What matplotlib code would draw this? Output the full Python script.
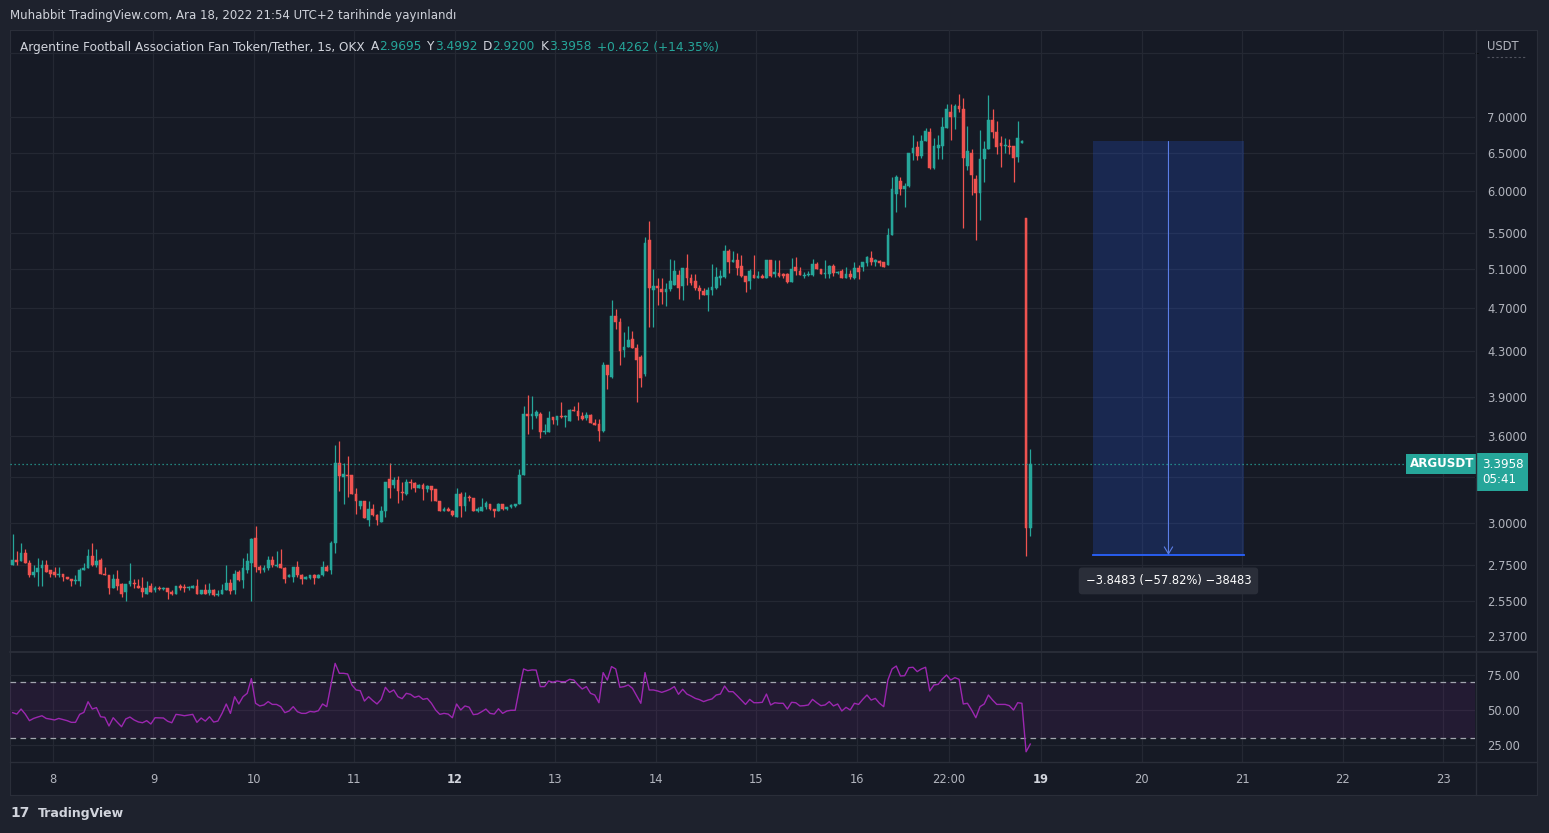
import numpy as np
import matplotlib.pyplot as plt
from matplotlib.lines import Line2D
from matplotlib.patches import Rectangle
from matplotlib.ticker import FixedLocator, NullFormatter
from matplotlib.transforms import blended_transform_factory

# ARG/USDT hourly candles (OKX)
opens = [
    2.75, 2.78, 2.77, 2.82, 2.76, 2.69, 2.71, 2.73, 2.75, 2.72, 2.71, 2.69,
    2.70, 2.68, 2.67, 2.66, 2.66, 2.72, 2.73, 2.80, 2.75, 2.78, 2.70, 2.69,
    2.62, 2.67, 2.64, 2.60, 2.64, 2.65, 2.63, 2.62, 2.59, 2.63, 2.61, 2.62,
    2.615, 2.62, 2.60, 2.59, 2.63, 2.625, 2.62, 2.62, 2.63, 2.59, 2.61, 2.595,
    2.61, 2.58, 2.59, 2.61, 2.65, 2.61, 2.71, 2.665, 2.72, 2.76, 2.91, 2.74,
    2.72, 2.73, 2.775, 2.745, 2.755, 2.73, 2.68, 2.68, 2.735, 2.69, 2.67, 2.675,
    2.69, 2.675, 2.69, 2.74, 2.72, 2.88, 3.40, 3.30, 3.32, 3.32, 3.19, 3.11,
    3.145, 3.02, 3.09, 3.05, 3.01, 3.08, 3.29, 3.25, 3.28, 3.20, 3.19, 3.27,
    3.26, 3.23, 3.25, 3.22, 3.24, 3.22, 3.145, 3.08, 3.09, 3.08, 3.04, 3.185,
    3.11, 3.17, 3.16, 3.08, 3.08, 3.10, 3.12, 3.09, 3.075, 3.125, 3.09, 3.10,
    3.11, 3.12, 3.32, 3.77, 3.755, 3.755, 3.77, 3.625, 3.63, 3.745, 3.72, 3.755,
    3.745, 3.71, 3.80, 3.79, 3.75, 3.735, 3.76, 3.70, 3.69, 3.64, 4.17, 4.07,
    4.62, 4.57, 4.31, 4.335, 4.41, 4.32, 4.24, 4.10, 5.42, 4.88, 4.92, 4.89,
    4.86, 4.89, 4.93, 5.04, 4.92, 5.11, 5.00, 4.97, 4.90, 4.87, 4.83, 4.88,
    4.90, 5.01, 5.02, 5.29, 5.18, 5.20, 5.13, 5.03, 4.97, 5.04, 5.00, 5.03,
    5.00, 5.20, 5.05, 5.06, 5.05, 5.05, 4.96, 5.12, 5.08, 5.03, 5.04, 5.04,
    5.15, 5.10, 5.05, 5.05, 5.13, 5.06, 5.08, 5.00, 5.05, 5.01, 5.11, 5.12,
    5.16, 5.22, 5.17, 5.19, 5.17, 5.14, 5.48, 5.97, 6.13, 6.03, 6.07, 6.50,
    6.58, 6.46, 6.66, 6.79, 6.30, 6.56, 6.60, 6.85, 7.08, 7.00, 7.16, 7.13,
    6.32, 6.50, 6.16, 5.98, 6.42, 6.55, 6.96, 6.79, 6.63, 6.59, 6.60, 6.59,
    6.45, 6.64, 5.67, 2.9695,
]
highs = [
    2.93, 2.83, 2.88, 2.84, 2.78, 2.75, 2.79, 2.78, 2.78, 2.72, 2.74, 2.74,
    2.70, 2.68, 2.67, 2.69, 2.73, 2.76, 2.84, 2.88, 2.84, 2.79, 2.74, 2.69,
    2.70, 2.72, 2.65, 2.64, 2.76, 2.67, 2.67, 2.68, 2.66, 2.65, 2.63, 2.63,
    2.625, 2.62, 2.61, 2.63, 2.64, 2.64, 2.63, 2.635, 2.67, 2.61, 2.64, 2.65,
    2.615, 2.61, 2.64, 2.75, 2.67, 2.72, 2.72, 2.79, 2.82, 2.91, 2.98, 2.75,
    2.75, 2.80, 2.80, 2.83, 2.84, 2.74, 2.70, 2.74, 2.77, 2.70, 2.685, 2.69,
    2.70, 2.70, 2.77, 2.75, 2.89, 3.53, 3.56, 3.40, 3.45, 3.32, 3.23, 3.145,
    3.145, 3.14, 3.12, 3.06, 3.11, 3.27, 3.40, 3.30, 3.31, 3.27, 3.29, 3.29,
    3.27, 3.255, 3.265, 3.25, 3.24, 3.22, 3.145, 3.10, 3.10, 3.085, 3.23, 3.20,
    3.20, 3.18, 3.16, 3.10, 3.16, 3.14, 3.12, 3.09, 3.13, 3.125, 3.105, 3.12,
    3.125, 3.36, 3.83, 3.92, 3.91, 3.80, 3.78, 3.69, 3.79, 3.745, 3.755, 3.86,
    3.76, 3.81, 3.83, 3.86, 3.78, 3.78, 3.765, 3.73, 3.73, 4.20, 4.17, 4.78,
    4.69, 4.60, 4.47, 4.53, 4.48, 4.36, 4.26, 5.45, 5.64, 5.10, 5.00, 5.00,
    4.95, 5.21, 5.20, 5.09, 5.11, 5.26, 5.05, 5.05, 4.93, 4.90, 4.91, 5.15,
    5.12, 5.09, 5.36, 5.32, 5.29, 5.27, 5.25, 5.03, 5.10, 5.25, 5.08, 5.05,
    5.20, 5.20, 5.20, 5.20, 5.06, 5.06, 5.22, 5.23, 5.12, 5.07, 5.08, 5.21,
    5.18, 5.10, 5.20, 5.14, 5.15, 5.08, 5.10, 5.12, 5.09, 5.17, 5.14, 5.17,
    5.24, 5.30, 5.21, 5.20, 5.18, 5.55, 6.18, 6.20, 6.18, 6.10, 6.50, 6.74,
    6.66, 6.75, 6.84, 6.84, 6.70, 6.74, 7.00, 7.20, 7.20, 7.20, 7.35, 7.29,
    6.87, 6.55, 6.20, 6.81, 6.66, 7.33, 7.12, 6.94, 6.73, 6.71, 6.69, 6.60,
    6.95, 6.67, 5.67, 3.4992,
]
lows = [
    2.75, 2.75, 2.77, 2.76, 2.68, 2.68, 2.63, 2.63, 2.71, 2.68, 2.68, 2.68,
    2.66, 2.67, 2.63, 2.64, 2.63, 2.72, 2.73, 2.745, 2.74, 2.70, 2.69, 2.59,
    2.62, 2.61, 2.57, 2.55, 2.63, 2.62, 2.62, 2.57, 2.59, 2.60, 2.60, 2.61,
    2.61, 2.56, 2.58, 2.59, 2.61, 2.60, 2.61, 2.62, 2.59, 2.585, 2.59, 2.58,
    2.575, 2.575, 2.59, 2.61, 2.59, 2.585, 2.66, 2.62, 2.705, 2.55, 2.71, 2.705,
    2.71, 2.72, 2.74, 2.735, 2.73, 2.65, 2.68, 2.655, 2.68, 2.64, 2.67, 2.67,
    2.64, 2.675, 2.685, 2.715, 2.70, 2.82, 3.21, 3.12, 3.17, 3.19, 3.06, 3.09,
    3.03, 2.98, 3.045, 2.99, 3.01, 3.04, 3.16, 3.23, 3.13, 3.15, 3.18, 3.22,
    3.20, 3.225, 3.15, 3.20, 3.14, 3.14, 3.08, 3.075, 3.075, 3.045, 3.04, 3.04,
    3.08, 3.14, 3.08, 3.07, 3.08, 3.09, 3.085, 3.04, 3.075, 3.085, 3.085, 3.095,
    3.10, 3.12, 3.32, 3.61, 3.65, 3.74, 3.58, 3.61, 3.63, 3.69, 3.685, 3.74,
    3.67, 3.71, 3.79, 3.72, 3.72, 3.72, 3.70, 3.685, 3.56, 3.63, 3.97, 4.06,
    4.50, 4.17, 4.24, 4.335, 4.32, 3.86, 3.99, 4.08, 4.52, 4.52, 4.73, 4.74,
    4.72, 4.87, 4.93, 4.79, 4.78, 4.93, 4.93, 4.88, 4.79, 4.83, 4.67, 4.83,
    4.89, 4.93, 5.01, 5.06, 5.18, 5.04, 5.02, 4.86, 4.89, 5.00, 5.00, 5.00,
    5.00, 5.02, 5.02, 5.02, 5.01, 4.95, 4.96, 5.04, 5.04, 5.01, 5.03, 5.03,
    5.10, 5.05, 5.00, 5.01, 5.03, 5.05, 5.00, 5.00, 4.99, 4.99, 4.99, 5.08,
    5.13, 5.14, 5.13, 5.13, 5.12, 5.14, 5.47, 5.75, 5.95, 5.80, 6.05, 6.40,
    6.40, 6.43, 6.66, 6.28, 6.29, 6.42, 6.42, 6.85, 6.67, 6.83, 7.08, 5.56,
    6.27, 5.95, 5.42, 5.65, 6.11, 6.55, 6.71, 6.48, 6.31, 6.50, 6.48, 6.11,
    6.38, 6.64, 2.80, 2.92,
]
closes = [
    2.78, 2.765, 2.82, 2.76, 2.69, 2.71, 2.73, 2.75, 2.71, 2.70, 2.69, 2.70,
    2.68, 2.67, 2.66, 2.665, 2.72, 2.73, 2.80, 2.75, 2.77, 2.70, 2.69, 2.62,
    2.67, 2.63, 2.59, 2.64, 2.66, 2.64, 2.62, 2.60, 2.62, 2.60, 2.62, 2.615,
    2.62, 2.60, 2.59, 2.63, 2.62, 2.62, 2.625, 2.63, 2.59, 2.61, 2.59, 2.61,
    2.58, 2.59, 2.61, 2.65, 2.605, 2.70, 2.665, 2.73, 2.77, 2.90, 2.74, 2.72,
    2.73, 2.775, 2.75, 2.75, 2.73, 2.67, 2.69, 2.735, 2.69, 2.67, 2.68, 2.69,
    2.675, 2.69, 2.74, 2.715, 2.88, 3.40, 3.31, 3.325, 3.31, 3.19, 3.145, 3.145,
    3.03, 3.09, 3.05, 3.02, 3.08, 3.27, 3.23, 3.28, 3.21, 3.195, 3.27, 3.26,
    3.23, 3.25, 3.22, 3.24, 3.215, 3.14, 3.08, 3.09, 3.08, 3.05, 3.185, 3.11,
    3.17, 3.16, 3.08, 3.09, 3.10, 3.13, 3.09, 3.075, 3.125, 3.09, 3.10, 3.115,
    3.12, 3.32, 3.77, 3.755, 3.765, 3.78, 3.63, 3.635, 3.74, 3.72, 3.755, 3.745,
    3.755, 3.80, 3.79, 3.75, 3.73, 3.76, 3.70, 3.685, 3.64, 4.17, 4.09, 4.62,
    4.57, 4.30, 4.335, 4.40, 4.32, 4.22, 4.06, 5.38, 4.90, 4.92, 4.90, 4.86,
    4.89, 4.97, 5.08, 4.90, 5.11, 5.00, 4.95, 4.90, 4.87, 4.83, 4.88, 4.91,
    5.02, 5.02, 5.29, 5.18, 5.195, 5.11, 5.03, 4.96, 5.08, 5.00, 5.03, 5.00,
    5.20, 5.03, 5.07, 5.03, 5.03, 4.96, 5.10, 5.08, 5.04, 5.04, 5.045, 5.15,
    5.10, 5.05, 5.06, 5.13, 5.06, 5.07, 5.00, 5.05, 5.02, 5.11, 5.07, 5.17,
    5.23, 5.17, 5.20, 5.16, 5.12, 5.48, 6.03, 6.18, 6.03, 6.06, 6.50, 6.56,
    6.46, 6.66, 6.80, 6.30, 6.60, 6.61, 6.86, 7.13, 7.00, 7.16, 7.12, 6.43,
    6.52, 6.21, 5.98, 6.41, 6.55, 6.96, 6.79, 6.58, 6.60, 6.60, 6.58, 6.43,
    6.70, 6.66, 2.9696, 3.3958,
]
rsi = [
    48.1, 47.1, 50.7, 47.1, 42.4, 44.0, 45.0, 45.9, 44.0, 43.5, 42.9, 44.0,
    43.2, 42.4, 41.2, 41.2, 46.9, 48.3, 55.9, 50.7, 51.7, 45.2, 44.8, 38.6,
    44.5, 41.2, 38.1, 43.6, 45.0, 42.9, 41.5, 40.9, 42.4, 40.0, 44.5, 44.4,
    44.3, 42.0, 40.9, 46.9, 46.5, 45.9, 46.4, 46.9, 41.2, 44.3, 42.1, 45.2,
    41.4, 42.1, 47.6, 54.3, 47.6, 59.5, 54.3, 59.5, 61.9, 72.4, 54.8, 52.9,
    53.6, 56.0, 54.0, 54.0, 52.4, 48.1, 49.3, 52.4, 48.8, 47.6, 47.6, 49.0,
    48.6, 49.5, 54.3, 52.4, 67.9, 83.3, 76.2, 76.2, 75.7, 67.9, 64.3, 63.8,
    56.4, 59.5, 56.7, 54.3, 57.6, 66.2, 62.6, 64.3, 59.5, 58.1, 61.9, 61.2,
    59.0, 60.0, 57.6, 58.3, 54.8, 50.0, 46.9, 47.6, 47.1, 44.5, 54.3, 50.0,
    52.9, 52.0, 46.7, 47.1, 48.8, 50.7, 47.6, 47.1, 50.9, 47.6, 49.3, 49.8,
    49.8, 65.2, 79.3, 78.1, 78.6, 78.5, 66.7, 66.7, 70.7, 69.8, 70.7, 70.2,
    70.2, 71.9, 71.4, 67.9, 65.0, 66.7, 61.9, 60.7, 55.2, 76.7, 71.4, 81.0,
    79.3, 66.2, 66.7, 67.9, 65.5, 60.2, 54.8, 76.7, 64.3, 64.3, 63.6, 62.6,
    63.6, 64.8, 66.7, 61.2, 64.8, 61.4, 60.0, 58.3, 57.4, 56.0, 57.1, 57.9,
    60.7, 61.4, 67.1, 63.1, 63.1, 60.2, 57.1, 54.0, 57.6, 55.2, 55.2, 55.5,
    61.4, 53.6, 55.2, 54.8, 54.8, 50.7, 55.5, 55.2, 52.9, 53.1, 53.6, 57.6,
    55.2, 53.1, 53.6, 56.0, 52.9, 54.3, 49.3, 51.9, 50.0, 54.8, 54.0, 57.6,
    60.7, 57.1, 58.3, 54.8, 52.4, 71.4, 79.3, 81.4, 74.3, 74.5, 80.2, 80.5,
    77.4, 79.3, 80.5, 63.6, 67.9, 68.3, 72.1, 75.0, 71.4, 73.1, 71.9, 54.3,
    54.8, 50.0, 44.5, 52.4, 54.3, 60.7, 57.1, 54.0, 54.0, 54.0, 53.1, 50.0,
    55.2, 54.8, 20.2, 25.7,
]

price_ticks = [7.0, 6.5, 6.0, 5.5, 5.1, 4.7, 4.3, 3.9, 3.6, 3.0, 2.75, 2.55, 2.37]
hidden_grid = [8.0, 3.3]
rsi_ticks = [75, 50, 25]
rsi_band = (30, 70)
time_labels = ['8', '9', '10', '11', '12', '13', '14', '15', '16', '22:00',
               '19', '20', '21', '22', '23']
bold_labels = ['12', '19']

measure_top = 6.6556
measure_bottom = 2.8073

header = 'Muhabbit TradingView.com, Ara 18, 2022 21:54 UTC+2 tarihinde yayınlandı'
symbol = 'Argentine Football Association Fan Token/Tether, 1s, OKX'
ticker = 'ARGUSDT'
countdown = '05:41'

# colours
FRAME = '#1e222d'
BG = '#161a25'
GRID = '#242833'
SEP = '#2a2e39'
TXT = '#b2b5be'
TXT2 = '#d1d4dc'
UP = '#26a69a'
DOWN = '#ef5350'
RSI_C = '#9c27b0'
BLUE = '#2962ff'

W, H = 1549, 833


def px_box(l, t, r, b):
    return [l / W, 1 - b / H, (r - l) / W, (b - t) / H]


fig = plt.figure(figsize=(W / 100, H / 100), dpi=100, facecolor=FRAME)

panel = fig.add_axes(px_box(10, 30, 1537, 795))
panel.set_facecolor(BG)
panel.set_xticks([])
panel.set_yticks([])
for s in panel.spines.values():
    s.set_color(SEP)

ax = fig.add_axes(px_box(10, 30, 1475, 651))
ax_rsi = fig.add_axes(px_box(10, 652, 1475, 762), sharex=ax)

# tick positions in bar units: 24 hourly bars per day
time_pos = [9.6, 33.6, 57.6, 81.6, 105.6, 129.6, 153.6, 177.6, 201.6, 223.6,
            245.6, 269.6, 293.6, 317.6, 341.6]

for a in (ax, ax_rsi):
    a.set_facecolor('none')
    a.set_axisbelow(True)
    for s in a.spines.values():
        s.set_visible(False)
    a.yaxis.tick_right()
    a.tick_params(length=0, colors=TXT, labelsize=8.3)
    a.tick_params(axis='y', pad=8.6)
    a.grid(True, which='both', color=GRID, lw=0.9)

# --- price pane
x = np.arange(len(closes))
o, h, l, c = (np.array(v) for v in (opens, highs, lows, closes))
cols = np.where(c >= o, UP, DOWN)
ax.vlines(x, l, h, colors=cols, lw=0.9)
ax.bar(x, np.maximum(np.abs(c - o), c * 0.0022), bottom=np.minimum(o, c),
       width=0.66, color=cols, edgecolor=cols, lw=0.35)

ax.set_yscale('log')
ax.set_ylim(2.297, 8.40)
ax.set_xlim(-0.64, 349.2)
ax.set_yticks(price_ticks)
ax.set_yticklabels([f'{p:.4f}' for p in price_ticks])
ax.yaxis.set_minor_locator(FixedLocator(hidden_grid))
ax.yaxis.set_minor_formatter(NullFormatter())
ax.tick_params(labelbottom=False)

last = closes[-1]
ax.axhline(last, color=UP, lw=0.9, ls=(0, (1, 2.2)), xmax=0.96)
trans = blended_transform_factory(ax.transAxes, ax.transData)
ax.text(0.9995, last, ticker, transform=trans, ha='right', va='center',
        color='white', fontsize=8.6, fontweight='bold',
        bbox=dict(boxstyle='square,pad=0.3', fc=UP, ec='none'))
ax.annotate(f'{last:.4f}\n{countdown}', xy=(1, last), xycoords=trans,
            xytext=(7, 6), textcoords='offset pixels', ha='left', va='top',
            color='white', fontsize=8.6, linespacing=1.2,
            bbox=dict(boxstyle='square,pad=0.4', fc=UP, ec='none'),
            annotation_clip=False)

# price range measurement
mx0, mx1 = 258.0, 294.0
mid = (mx0 + mx1) / 2
ax.add_patch(Rectangle((mx0, measure_bottom), mx1 - mx0, measure_top - measure_bottom,
                       fc=BLUE, alpha=0.2, lw=0))
ax.plot([mx0, mx1], [measure_bottom] * 2, color=BLUE, lw=1.3)
ax.annotate('', xy=(mid, measure_bottom), xytext=(mid, measure_top),
            arrowprops=dict(arrowstyle='->,head_length=0.5,head_width=0.3',
                            color='#5b7ee6', lw=0.8, shrinkA=0, shrinkB=0))
diff = measure_bottom - measure_top
pct = diff / measure_top * 100
mlabel = f'{diff:.4f} ({pct:.2f}%) {diff * 10000:.0f}'.replace('-', '\u2212')
ax.annotate(mlabel, xy=(mid, measure_bottom), xytext=(0, -26),
            textcoords='offset pixels', ha='center', va='center', color='white',
            fontsize=8.3,
            bbox=dict(boxstyle='round,pad=0.6,rounding_size=0.3', fc=SEP, ec='none'))

# --- RSI pane
ax_rsi.axhspan(*rsi_band, color=RSI_C, alpha=0.1, lw=0)
for lvl in rsi_band:
    ax_rsi.axhline(lvl, color='#a3a6af', lw=0.9, ls=(0, (4.5, 3.5)))
ax_rsi.plot(x, rsi, color=RSI_C, lw=1.0)
ax_rsi.set_ylim(12.9, 91.4)
ax_rsi.set_yticks(rsi_ticks)
ax_rsi.set_yticklabels([f'{v:.2f}' for v in rsi_ticks])
ax_rsi.set_xticks(time_pos)
ax_rsi.set_xticklabels(time_labels)
ax_rsi.tick_params(axis='x', pad=8)
for lbl in ax_rsi.get_xticklabels():
    if lbl.get_text() in bold_labels:
        lbl.set_fontweight('bold')
        lbl.set_color(TXT2)

# separators
fig.add_artist(Line2D([10 / W, 1537 / W], [1 - 651.5 / H] * 2, color=SEP, lw=1.3))
fig.add_artist(Line2D([10 / W, 1537 / W], [1 - 762 / H] * 2, color=SEP, lw=1.0))
fig.add_artist(Line2D([1475.5 / W] * 2, [1 - 30 / H, 1 - 795 / H], color=SEP, lw=1.0))

# header / titles
fig.text(10 / W, 1 - 16 / H, header, color=TXT2, fontsize=8.5, va='center')
t = fig.text(20 / W, 1 - 47 / H, symbol, color=TXT2, fontsize=8.7, va='center')
chg = closes[-1] - closes[-2]
chg_pct = chg / closes[-2] * 100
title_parts = [
    ('A', TXT2, 6), (f'{opens[-1]:.4f}', UP, 0),
    ('Y', TXT2, 6), (f'{highs[-1]:.4f}', UP, 0),
    ('D', TXT2, 6), (f'{lows[-1]:.4f}', UP, 0),
    ('K', TXT2, 6), (f'{closes[-1]:.4f}', UP, 0),
    (f'{chg:+.4f} ({chg_pct:+.2f}%)', UP, 6),
]
for s, col, gap in title_parts:
    t = ax.annotate(s, xy=(1, 0), xycoords=t, xytext=(gap, 0),
                    textcoords='offset pixels', ha='left', va='bottom',
                    color=col, fontsize=8.7)

fig.text(1487 / W, 1 - 46 / H, 'USDT', color=TXT, fontsize=8.3, va='center')
fig.add_artist(Line2D([1487 / W, 1525 / W], [1 - 57 / H] * 2, color='#50535e',
                      lw=0.8, ls=(0, (2, 2))))

# footer
fig.text(10 / W, 1 - 813 / H, '17', color=TXT2, fontsize=10, fontweight='heavy',
         va='center')
fig.text(38 / W, 1 - 813 / H, 'TradingView', color=TXT2, fontsize=9,
         fontweight='bold', va='center')

fig.savefig('out.png', dpi=100, facecolor=FRAME)
